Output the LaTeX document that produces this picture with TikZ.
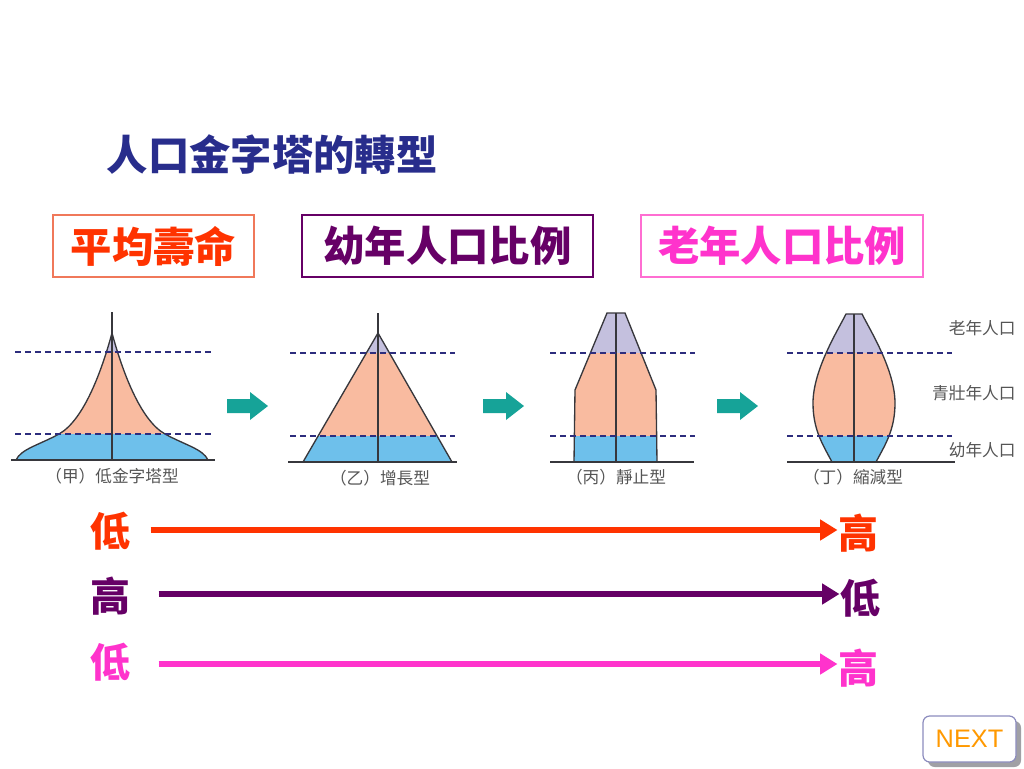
\documentclass[tikz,border=0pt]{standalone}
\usepackage{fontspec}
\newfontfamily\cjk{Noto Sans CJK TC}
\setsansfont{Liberation Sans}
\usepackage{tikz}
\usetikzlibrary{arrows.meta}
\tikzset{every picture/.style={line width=0.75pt}}

\begin{document}
\begin{tikzpicture}[x=0.75pt,y=0.75pt,yscale=-1,xscale=1,
  outline/.style={draw={rgb, 255:red, 55; green, 55; blue, 60 },line width=1pt},
  level/.style={draw={rgb, 255:red, 45; green, 45; blue, 125 },dash pattern=on 4.5pt off 3pt,line width=0.9pt},
  ground/.style={draw={rgb, 255:red, 55; green, 55; blue, 60 },line width=1.1pt},
  oldfill/.style={fill={rgb, 255:red, 196; green, 192; blue, 222 }},
  midfill/.style={fill={rgb, 255:red, 249; green, 187; blue, 160 }},
  youngfill/.style={fill={rgb, 255:red, 110; green, 192; blue, 235 }},
  turn/.style={fill={rgb, 255:red, 22; green, 163; blue, 152 }},
  topic/.style={draw,line width=0.9pt,inner sep=0pt,minimum height=46.5pt,font=\cjk\bfseries\fontsize{31pt}{31pt}\selectfont},
  tag/.style={inner sep=0pt,text={rgb, 255:red, 85; green, 85; blue, 85 },font=\cjk\fontsize{12.5pt}{12.5pt}\selectfont},
  rate/.style={inner sep=0pt,font=\cjk\bfseries\fontsize{30pt}{30pt}\selectfont},
  trend/.style={line width=4.5pt,-{Triangle[length=13pt,width=15pt]}}
]
\useasboundingbox (0,0) rectangle (1024,768);

% Text Node
\node (title) at (272,155) [inner sep=0pt,text={rgb, 255:red, 40; green, 45; blue, 140 },font=\cjk\bfseries\fontsize{31pt}{31pt}\selectfont] {人口金字塔的轉型};

% Text Node
\node (lifeBox) at (153.5,246) [topic,minimum width=150.75pt,draw={rgb, 255:red, 240; green, 120; blue, 90 },text={rgb, 255:red, 255; green, 51; blue, 0 }] {平均壽命};
% Text Node
\node (youngBox) at (447.5,246) [topic,minimum width=218.25pt,draw={rgb, 255:red, 102; green, 0; blue, 102 },text={rgb, 255:red, 102; green, 0; blue, 102 }] {幼年人口比例};
% Text Node
\node (oldBox) at (782,246) [topic,minimum width=211.5pt,draw={rgb, 255:red, 255; green, 110; blue, 210 },text={rgb, 255:red, 255; green, 51; blue, 204 }] {老年人口比例};

%Shape: Pyramid (甲)
\begin{scope}
\clip (16,460) .. controls (21,449) and (39,445) .. (59,434) .. controls (84,420) and (102,370) .. (112,333) .. controls (122,370) and (140,420) .. (165,434) .. controls (185,445) and (203,449) .. (208,460) -- cycle ;
\fill[oldfill] (10,320) rectangle (220,352) ;
\fill[midfill] (10,352) rectangle (220,434) ;
\fill[youngfill] (10,434) rectangle (220,461) ;
\end{scope}
\draw[outline] (16,460) .. controls (21,449) and (39,445) .. (59,434) .. controls (84,420) and (102,370) .. (112,333) .. controls (122,370) and (140,420) .. (165,434) .. controls (185,445) and (203,449) .. (208,460) ;
%Straight Lines
\draw[outline] (112,312) -- (112,460) ;
\draw[level] (15,352) -- (212,352) ;
\draw[level] (15,434) -- (212,434) ;
\draw[ground] (11,460) -- (215,460) ;

%Shape: Pyramid (乙)
\begin{scope}
\clip (303,462) -- (378,333) -- (452,462) -- cycle ;
\fill[oldfill] (290,320) rectangle (460,353) ;
\fill[midfill] (290,353) rectangle (460,436) ;
\fill[youngfill] (290,436) rectangle (460,463) ;
\end{scope}
\draw[outline] (303,462) -- (378,333) -- (452,462) ;
%Straight Lines
\draw[outline] (378,313) -- (378,462) ;
\draw[level] (290,353) -- (455,353) ;
\draw[level] (290,436) -- (455,436) ;
\draw[ground] (288,462) -- (457,462) ;

%Shape: Pyramid (丙)
\begin{scope}
\clip (574,462) -- (575,390) -- (607,313) -- (625,313) -- (656,390) -- (657,462) -- cycle ;
\fill[oldfill] (560,310) rectangle (690,353) ;
\fill[midfill] (560,353) rectangle (690,436) ;
\fill[youngfill] (560,436) rectangle (690,463) ;
\end{scope}
\draw[outline] (574,462) -- (575,390) -- (607,313) -- (625,313) -- (656,390) -- (657,462) ;
%Straight Lines
\draw[outline] (616,313) -- (616,462) ;
\draw[level] (550,353) -- (695,353) ;
\draw[level] (550,436) -- (695,436) ;
\draw[ground] (550,462) -- (694,462) ;

%Shape: Pyramid (丁)
\begin{scope}
\clip (832,462) .. controls (823,445) and (813,430) .. (813,403) .. controls (813,370) and (838,330) .. (846,314) -- (862,314) .. controls (870,330) and (895,370) .. (895,403) .. controls (895,430) and (885,445) .. (876,462) -- cycle ;
\fill[oldfill] (800,310) rectangle (910,353) ;
\fill[midfill] (800,353) rectangle (910,436) ;
\fill[youngfill] (800,436) rectangle (910,463) ;
\end{scope}
\draw[outline] (832,462) .. controls (823,445) and (813,430) .. (813,403) .. controls (813,370) and (838,330) .. (846,314) -- (862,314) .. controls (870,330) and (895,370) .. (895,403) .. controls (895,430) and (885,445) .. (876,462) ;
%Straight Lines
\draw[outline] (854,314) -- (854,462) ;
\draw[level] (787,353) -- (952,353) ;
\draw[level] (787,436) -- (952,436) ;
\draw[ground] (787,462) -- (955,462) ;

%Shape: Right Arrow
\fill[turn] (227,399) -- (250,399) -- (250,392) -- (268,406) -- (250,420) -- (250,413) -- (227,413) -- cycle ;
%Shape: Right Arrow
\fill[turn] (483,399) -- (506,399) -- (506,392) -- (524,406) -- (506,420) -- (506,413) -- (483,413) -- cycle ;
%Shape: Right Arrow
\fill[turn] (717,399) -- (740,399) -- (740,392) -- (758,406) -- (740,420) -- (740,413) -- (717,413) -- cycle ;

% Text Node
\node (tagJia) at (112,476) [tag] {（甲）低金字塔型};
% Text Node
\node (tagYi) at (380,478) [tag] {（乙）增長型};
% Text Node
\node (tagBing) at (616,477) [tag] {（丙）靜止型};
% Text Node
\node (tagDing) at (853,477) [tag] {（丁）縮減型};
% Text Node
\node (tagOld) at (1016,328) [tag,anchor=east] {老年人口};
% Text Node
\node (tagMid) at (1016,393) [tag,anchor=east] {青壯年人口};
% Text Node
\node (tagYoung) at (1016,450) [tag,anchor=east] {幼年人口};

% Text Node
\node (lowA) at (110,531) [rate,text={rgb, 255:red, 255; green, 51; blue, 0 }] {低};
\node (highA) at (858,533) [rate,text={rgb, 255:red, 255; green, 51; blue, 0 }] {高};
% Text Node
\node (highB) at (110,596) [rate,text={rgb, 255:red, 102; green, 0; blue, 102 }] {高};
\node (lowB) at (860,598) [rate,text={rgb, 255:red, 102; green, 0; blue, 102 }] {低};
% Text Node
\node (lowC) at (110,662) [rate,text={rgb, 255:red, 255; green, 51; blue, 204 }] {低};
\node (highC) at (858,668) [rate,text={rgb, 255:red, 255; green, 51; blue, 204 }] {高};

%Straight Lines
\draw[trend,draw={rgb, 255:red, 255; green, 51; blue, 0 },fill={rgb, 255:red, 255; green, 51; blue, 0 }] (lowA.east |- 0,530) ++(15pt,0) -- (highA.west |- 0,530) ;
\draw[trend,draw={rgb, 255:red, 102; green, 0; blue, 102 },fill={rgb, 255:red, 102; green, 0; blue, 102 }] (highB.east |- 0,594) ++(21pt,0) -- (lowB.west |- 0,594) ;
\draw[trend,draw={rgb, 255:red, 255; green, 51; blue, 204 },fill={rgb, 255:red, 255; green, 51; blue, 204 }] (lowC.east |- 0,664) ++(21pt,0) -- (highC.west |- 0,664) ;

%Shape: Rounded Rectangle
\fill[rounded corners=5pt,fill={rgb, 255:red, 160; green, 160; blue, 165 }] (928,721) rectangle (1021,767) ;
% Text Node
\node (next) at (969.5,739) [draw={rgb, 255:red, 140; green, 140; blue, 190 },fill=white,rounded corners=5pt,line width=0.9pt,minimum width=69.75pt,minimum height=34.5pt,inner sep=0pt,text={rgb, 255:red, 255; green, 153; blue, 0 },font=\sffamily\fontsize{19pt}{19pt}\selectfont] {NEXT};

\end{tikzpicture}
\end{document}
